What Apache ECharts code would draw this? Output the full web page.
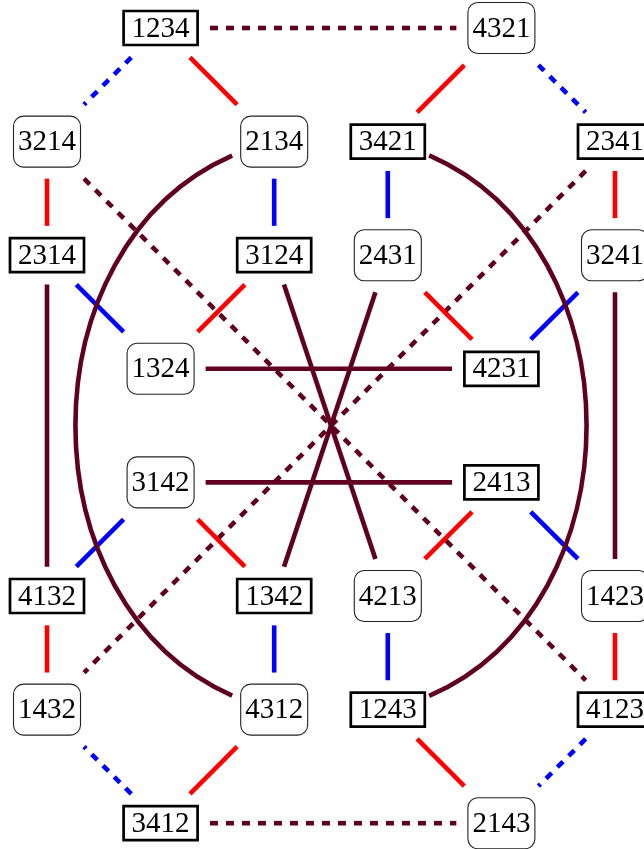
<!DOCTYPE html>
<html><head><meta charset="utf-8">
<script src="https://cdn.jsdelivr.net/npm/echarts@6/dist/echarts.min.js"></script>
<style>html,body{margin:0;padding:0;background:#fff}#c{width:644px;height:849px}</style>
</head><body><div id="c"></div>
<script>
// ---- data ----
const nodeLabels = ['1234','4321','3214','2134','3421','2341','2314','3124','2431','3241','1324','4231','3142','2413','4132','1342','4213','1423','1432','4312','1243','4123','3412','2143'];
const nodeCols   = [1,4,0,2,3,5,0,2,3,5,1,4,1,4,0,2,3,5,0,2,3,5,1,4];
const nodeRows   = [0,0,1,1,1,1,2,2,2,2,3,3,4,4,5,5,5,5,6,6,6,6,7,7];
const nodeFrames = ['square','round','round','round','square','square','square','square','round','round','round','square','round','square','square','square','round','round','round','round','square','square','square','round'];

const edgeSources = ['1234','3412','3214','2341', '1234','4321','3412','4123',
  '1234','4321','3214','2341','3124','2431','3142','2413','4132','1423','4312','1243',
  '2134','3421','2314','3241','3142','2413','1342','4213',
  '2314','3241','1324','3142','3124','2431',
  '2134','3421'];
const edgeTargets = ['4321','2143','4123','1432', '3214','2341','1432','2143',
  '2134','3421','2314','3241','1324','4231','1342','4213','1432','4123','3412','2143',
  '3124','2431','1324','4231','4132','1423','4312','1243',
  '4132','1423','4231','2413','4213','1342',
  '4312','1243'];
const edgeKinds = ['maroonDot','maroonDot','maroonDot','maroonDot','blueDot','blueDot','blueDot','blueDot',
  'red','red','red','red','red','red','red','red','red','red','red','red',
  'blue','blue','blue','blue','blue','blue','blue','blue',
  'maroon','maroon','maroon','maroon','maroon','maroon',
  'arc','arc'];

// ---- styles ----
const MAROON = '#600020';
const kindStyle = {
  red:       {stroke:'#ff0000', dash:null},
  blue:      {stroke:'#0000ff', dash:null},
  maroon:    {stroke:MAROON, dash:null},
  arc:       {stroke:MAROON, dash:null},
  maroonDot: {stroke:MAROON, dash:[8, 8]},
  blueDot:   {stroke:'#0000ff', dash:[8, 8]}
};
const frameStyle = {
  square: {w:74, h:34, lw:2.7, r:0, stroke:'#000', margin:11, arcMargin:3},
  round:  {w:67, h:51, lw:1.1, r:10, stroke:'#222', margin:11, arcMargin:8}
};
const LINE_W = 4.6;
const ARC_BULGE = 2.333, ARC_LIFT = 0.555, CENTER_COL = 2.5;

const idx = {};
nodeLabels.forEach((l, i) => idx[l] = i);

const edgeData = edgeSources.map((s, i) => {
  const a = idx[s], b = idx[edgeTargets[i]];
  return [nodeCols[a], nodeRows[a], nodeCols[b], nodeRows[b]];
});
const nodeData = nodeLabels.map((l, i) => [nodeCols[i], nodeRows[i]]);

function halfBox(frame, m) {
  const f = frameStyle[frame];
  return [(f.w + f.lw) / 2 + m, (f.h + f.lw) / 2 + m];
}
function exitDist(ux, uy, hb) {
  const tx = Math.abs(ux) > 1e-9 ? hb[0] / Math.abs(ux) : Infinity;
  const ty = Math.abs(uy) > 1e-9 ? hb[1] / Math.abs(uy) : Infinity;
  return Math.min(tx, ty);
}
function bez(P, t) {
  const m = 1 - t;
  return [m*m*m*P[0][0] + 3*m*m*t*P[1][0] + 3*m*t*t*P[2][0] + t*t*t*P[3][0],
          m*m*m*P[0][1] + 3*m*m*t*P[1][1] + 3*m*t*t*P[2][1] + t*t*t*P[3][1]];
}
function lerp(a, b, t) { return [a[0] + (b[0]-a[0])*t, a[1] + (b[1]-a[1])*t]; }
function split(P, t) {
  const p01 = lerp(P[0],P[1],t), p12 = lerp(P[1],P[2],t), p23 = lerp(P[2],P[3],t);
  const a = lerp(p01,p12,t), b = lerp(p12,p23,t), c = lerp(a,b,t);
  return [[P[0],p01,a,c],[c,b,p23,P[3]]];
}
function findExit(P, center, hb, fromStart) {
  let lo = fromStart ? 0 : 1, hi = 0.5;
  const inside = t => { const p = bez(P, t); return Math.abs(p[0]-center[0]) < hb[0] && Math.abs(p[1]-center[1]) < hb[1]; };
  for (let k = 0; k < 40; k++) {
    const mid = (lo + hi) / 2;
    if (inside(mid)) lo = mid; else hi = mid;
  }
  return (lo + hi) / 2;
}

function renderEdge(params, api) {
  const i = params.dataIndex;
  const kind = edgeKinds[i];
  const st = kindStyle[kind];
  const fa = nodeFrames[idx[edgeSources[i]]], fb = nodeFrames[idx[edgeTargets[i]]];
  const c0 = [api.value(0), api.value(1)], c1 = [api.value(2), api.value(3)];
  const p = api.coord(c0), q = api.coord(c1);
  const style = {stroke: st.stroke, lineWidth: LINE_W, fill: null, lineCap: 'butt'};
  if (st.dash) { style.lineDash = st.dash; style.lineDashOffset = 0; }
  if (kind === 'arc') {
    const sgn = c0[0] < CENTER_COL ? -1 : 1;
    const k1 = api.coord([c0[0] + sgn*ARC_BULGE, c0[1] + ARC_LIFT]);
    const k2 = api.coord([c1[0] + sgn*ARC_BULGE, c1[1] - ARC_LIFT]);
    const P = [p, k1, k2, q];
    const t0 = findExit(P, p, halfBox(fa, frameStyle[fa].arcMargin), true);
    const t1 = findExit(P, q, halfBox(fb, frameStyle[fb].arcMargin), false);
    const left = split(P, t1)[0];
    const sub = split(left, t0 / t1)[1];
    return {type:'bezierCurve', shape:{x1:sub[0][0], y1:sub[0][1], cpx1:sub[1][0], cpy1:sub[1][1], cpx2:sub[2][0], cpy2:sub[2][1], x2:sub[3][0], y2:sub[3][1]}, style};
  }
  const dx = q[0]-p[0], dy = q[1]-p[1], L = Math.hypot(dx, dy);
  const ux = dx/L, uy = dy/L;
  const ta = exitDist(ux, uy, halfBox(fa, frameStyle[fa].margin));
  const tb = exitDist(ux, uy, halfBox(fb, frameStyle[fb].margin));
  return {type:'line', shape:{x1:p[0]+ux*ta, y1:p[1]+uy*ta, x2:q[0]-ux*tb, y2:q[1]-uy*tb}, style};
}

function renderNode(params, api) {
  const i = params.dataIndex;
  const f = frameStyle[nodeFrames[i]];
  const c = api.coord([api.value(0), api.value(1)]);
  return {type:'group', children:[
    {type:'rect', shape:{x:c[0]-f.w/2, y:c[1]-f.h/2, width:f.w, height:f.h, r:f.r},
     style:{fill:'#fff', stroke:f.stroke, lineWidth:f.lw}},
    {type:'text', x:c[0], y:c[1]+1, style:{text:nodeLabels[i], fill:'#000',
      font:'29px "Liberation Serif", "DejaVu Serif", serif', align:'center', verticalAlign:'middle'}}
  ]};
}

const chart = echarts.init(document.getElementById('c'), null, {renderer:'canvas'});
chart.setOption({
  animation:false,
  backgroundColor:'#fff',
  grid:{left:0, right:0, top:0, bottom:0},
  xAxis:{type:'value', min:-0.4137, max:5.2553, show:false},
  yAxis:{type:'value', min:-0.2465, max:7.2271, inverse:true, show:false},
  series:[
    {type:'custom', coordinateSystem:'cartesian2d', renderItem:renderEdge, data:edgeData, encode:{x:[0,2], y:[1,3]}, clip:false, z:1, silent:true},
    {type:'custom', coordinateSystem:'cartesian2d', renderItem:renderNode, data:nodeData, encode:{x:0, y:1}, clip:false, z:2, silent:true}
  ]
});
</script></body></html>
